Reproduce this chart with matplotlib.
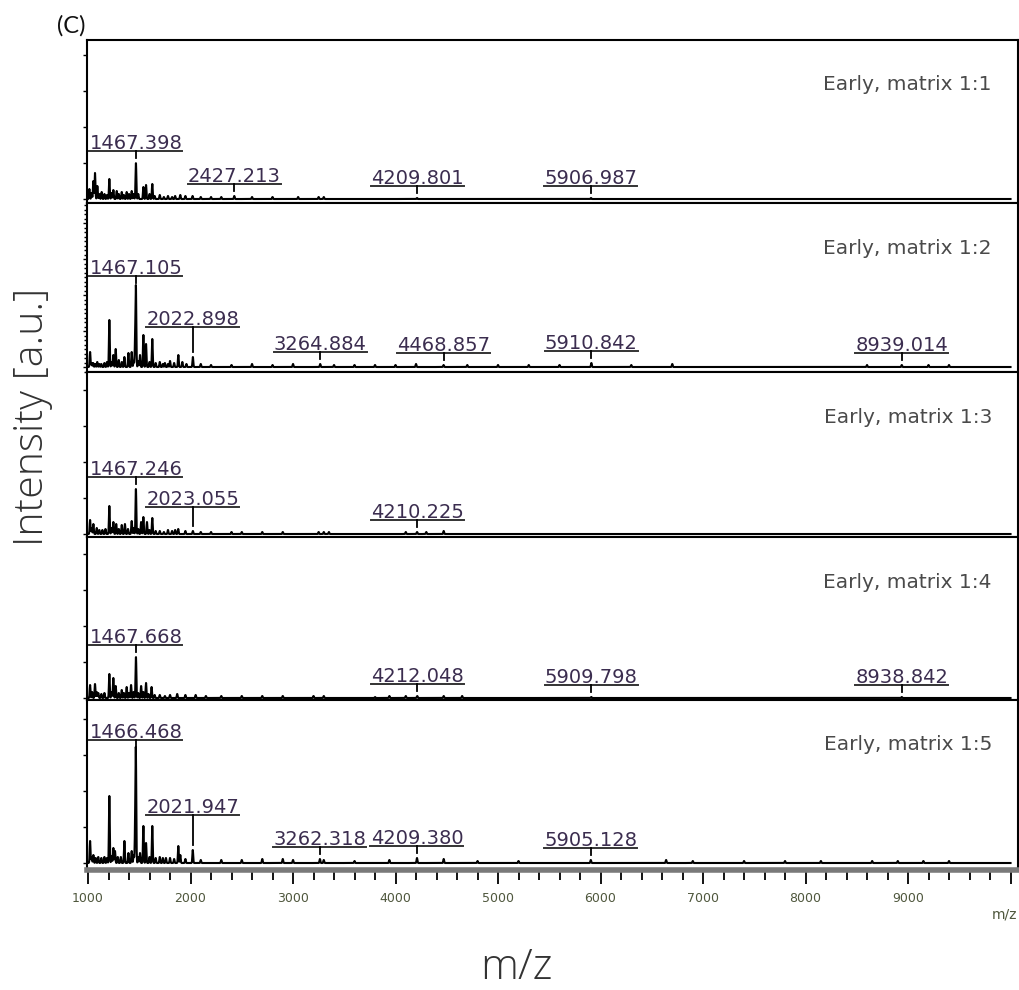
import numpy as np
import matplotlib.pyplot as plt
from matplotlib.ticker import MultipleLocator

# peak tables (m/z, intensity) for the five spotting ratios
mz_11 = [1013, 1035, 1052, 1068, 1091, 1110, 1133, 1160, 1185, 1208, 1230, 1247,
         1280, 1300, 1329, 1350, 1377, 1400, 1426, 1445, 1467.398, 1490, 1540,
         1566, 1600, 1627, 1650, 1700, 1740, 1780, 1820, 1850, 1900, 1950, 2020,
         2100, 2200, 2300, 2427.213, 2600, 2800, 3050, 3250, 3300, 4209.801,
         5906.987]
int_11 = [10, 6, 18, 26, 13, 5, 7, 5, 4, 20, 6, 9,
          8, 5, 7, 4, 7, 5, 8, 5, 36, 5, 12,
          14, 5, 15, 3, 4, 2, 3, 2, 3, 4, 3, 3,
          2, 2, 2, 3, 2, 2, 2, 2, 2, 1,
          1]

mz_12 = [1020, 1035, 1050, 1070, 1090, 1110, 1130, 1160, 1185, 1208, 1230, 1247,
         1270, 1300, 1330, 1355, 1394, 1426, 1445, 1459, 1467.105, 1490, 1507,
         1540, 1566, 1600, 1627, 1660, 1700, 1730, 1750, 1780, 1800, 1840, 1881,
         1920, 1960, 2022.898, 2100, 2200, 2400, 2600, 2800, 3000, 3264.884,
         3400, 3600, 3800, 4000, 4200, 4468.857, 4700, 5000, 5300, 5600,
         5910.842, 6300, 6700, 8600, 8939.014, 9200, 9400]
int_12 = [15, 4, 4, 3, 5, 3, 3, 4, 5, 47, 5, 12,
          18, 7, 5, 10, 14, 15, 6, 22, 79, 6, 12,
          32, 23, 5, 28, 4, 5, 3, 4, 3, 6, 4, 12,
          5, 3, 10, 3, 2, 2, 3, 2, 3, 3,
          2, 2, 2, 2, 3, 2, 2, 2, 2, 2,
          4, 2, 3, 2, 2, 2, 2]

mz_13 = [1020, 1035, 1052, 1085, 1110, 1140, 1170, 1208, 1230, 1247, 1275, 1300,
         1329, 1360, 1390, 1426, 1445, 1467.246, 1490, 1518, 1540, 1575, 1600,
         1627, 1660, 1700, 1740, 1780, 1820, 1850, 1880, 1950, 2023.055, 2100,
         2200, 2400, 2500, 2700, 2900, 3250, 3300, 3350, 4100, 4210.225, 4300,
         4470]
int_13 = [14, 6, 10, 6, 4, 4, 5, 28, 6, 12, 10, 5,
          9, 10, 5, 13, 6, 45, 5, 12, 17, 12, 4,
          16, 3, 3, 2, 4, 3, 4, 5, 3, 3, 2,
          2, 2, 2, 2, 2, 2, 2, 2, 2, 2, 2,
          3]

mz_14 = [1020, 1040, 1068, 1085, 1100, 1130, 1160, 1208, 1230, 1247, 1270, 1300,
         1329, 1350, 1377, 1400, 1420, 1445, 1467.668, 1490, 1518, 1540, 1566,
         1590, 1620, 1650, 1700, 1750, 1800, 1870, 1950, 2050, 2150, 2300, 2500,
         2700, 2900, 3200, 3300, 3800, 3940, 4100, 4212.048, 4470, 4650,
         5909.798, 8938.842]
int_14 = [13, 6, 14, 6, 5, 4, 5, 24, 6, 20, 12, 5,
          8, 5, 11, 5, 13, 6, 41, 5, 12, 6, 15,
          4, 11, 3, 3, 2, 3, 4, 3, 3, 2, 2, 2,
          2, 2, 2, 2, 1, 2, 2, 2, 2, 2,
          1, 1]

mz_15 = [1020, 1035, 1052, 1075, 1100, 1130, 1160, 1185, 1208, 1230, 1247, 1263,
         1290, 1320, 1355, 1394, 1426, 1445, 1459, 1466.468, 1490, 1507, 1540,
         1566, 1600, 1627, 1660, 1700, 1730, 1760, 1800, 1840, 1881, 1900, 1950,
         2021.947, 2100, 2300, 2500, 2700, 2900, 3000, 3262.318, 3300, 3600,
         3940, 4209.380, 4470, 4800, 5200, 5905.128, 6640, 6900, 7400, 7800,
         8150, 8650, 8900, 9150, 9400]
int_15 = [22, 6, 8, 5, 6, 5, 6, 5, 67, 7, 15, 12,
          6, 6, 22, 10, 12, 8, 27, 111, 6, 10, 37,
          20, 6, 37, 5, 6, 5, 5, 5, 4, 17, 8, 4,
          13, 3, 3, 3, 4, 4, 3, 4, 3, 2,
          3, 5, 4, 2, 2, 3, 3, 2, 2, 2,
          2, 2, 2, 2, 2]

names = ["Early, matrix 1:1", "Early, matrix 1:2", "Early, matrix 1:3",
         "Early, matrix 1:4", "Early, matrix 1:5"]

labels_11 = [1467.398, 2427.213, 4209.801, 5906.987]
labels_12 = [1467.105, 2022.898, 3264.884, 4468.857, 5910.842, 8939.014]
labels_13 = [1467.246, 2023.055, 4210.225]
labels_14 = [1467.668, 4212.048, 5909.798, 8938.842]
labels_15 = [1466.468, 2021.947, 3262.318, 4209.380, 5905.128]

spectra = [(mz_11, int_11, labels_11), (mz_12, int_12, labels_12),
           (mz_13, int_13, labels_13), (mz_14, int_14, labels_14),
           (mz_15, int_15, labels_15)]

# panel frames in pixels (top, bottom) and baseline gap
frames = [(40, 203, 4), (203, 372, 5), (372, 537, 3), (537, 700, 2), (700, 870, 7)]
# labels lifted above neighbouring peaks
raised = {1: {2022.898: 40}, 2: {2023.055: 27}, 4: {2021.947: 48}}

W, H = 1020, 990
fig = plt.figure(figsize=(W / 100, H / 100), dpi=100)

x_left, x_right = 87, 1018
mz_lo, mz_hi = 990, 10073
px_per_mz = (x_right - x_left) / (mz_hi - mz_lo)
half_line = 46.5 / px_per_mz

grid = np.arange(1000, 10001, 1.0)
label_col = "#3b2d4f"
thin_font = dict(family=["Open Sans", "Lato", "DejaVu Sans"], weight="light")

for i, ((mz, inten, labs), (top, bot, gap)) in enumerate(zip(spectra, frames)):
    ax = fig.add_axes([x_left / W, 1 - bot / H, (x_right - x_left) / W, (bot - top) / H])
    trace = np.zeros_like(grid)
    for m, h in zip(mz, inten):
        trace += h * np.exp(-0.5 * ((grid - m) / 4.0) ** 2)
    ax.plot(grid, trace, color="black", lw=1.5)
    ax.set_xlim(mz_lo, mz_hi)
    ax.set_ylim(-gap, (bot - top) - gap)

    for m in labs:
        h = inten[mz.index(m)]
        u = raised.get(i, {}).get(m, h + 12)
        ax.plot([m - half_line, m + half_line], [u, u], color="#333333", lw=1.4)
        ax.plot([m, m], [u, u - max(6, u - h - 5)], color="black", lw=1.3)
        ax.text(m, u + 2, f"{m:.3f}", ha="center", va="baseline", fontsize=14,
                color=label_col)

    ax.text(0.972, 1 - 45 / (bot - top), names[i], transform=ax.transAxes,
            ha="right", va="center", fontsize=14.5, color="#4a4a4a")

    for s in ax.spines.values():
        s.set_linewidth(1.5)
    ax.yaxis.set_major_locator(MultipleLocator(36))
    if i == 1:
        ax.yaxis.set_minor_locator(MultipleLocator(4.5))
    ax.tick_params(axis="y", which="both", direction="out", length=3, width=1,
                   labelleft=False)
    ax.tick_params(axis="y", which="minor", length=2)

    if i < 4:
        ax.tick_params(axis="x", bottom=False, labelbottom=False)
    else:
        ax.spines["bottom"].set_color("#7a7a7a")
        ax.spines["bottom"].set_linewidth(4)
        ax.xaxis.set_major_locator(MultipleLocator(1000))
        ax.xaxis.set_minor_locator(MultipleLocator(200))
        ax.tick_params(axis="x", which="major", direction="out", length=10, width=1.3,
                       pad=6, labelsize=9, labelcolor="#4f573d")
        ax.tick_params(axis="x", which="minor", direction="out", length=7, width=1.3)
        ax.set_xticks(range(1000, 10001, 1000))
        ax.set_xticklabels([str(v) for v in range(1000, 10000, 1000)] + [""])

fig.text(1005 / W, 1 - 915 / H, "m/z", ha="center", va="center", fontsize=10,
         color="#4f573d")
fig.text(516 / W, 1 - 968 / H, "m/z", ha="center", va="center", fontsize=31,
         color="#333333", **thin_font)
fig.text(33 / W, 1 - 417 / H, "Intensity [a.u.]", rotation=90, ha="center",
         va="center", fontsize=29.5, color="#333333", **thin_font)
fig.text(57 / W, 1 - 26 / H, "(C)", ha="left", va="center", fontsize=17,
         family=["Lato", "DejaVu Sans"], color="#111111")

fig.savefig("out.png", dpi=100, facecolor="white")
